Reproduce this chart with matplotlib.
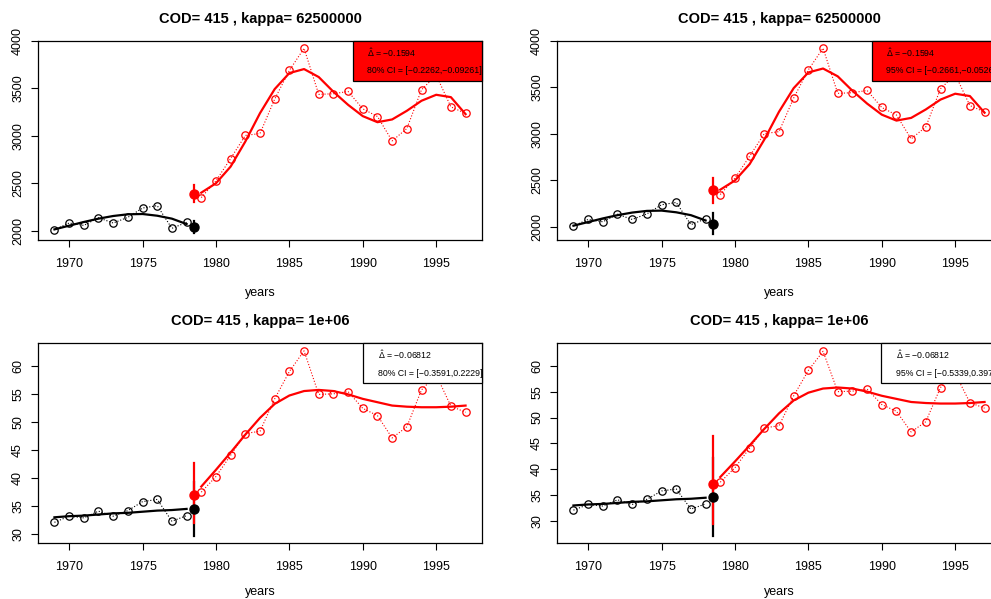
import numpy as np
import matplotlib
matplotlib.use("Agg")
import matplotlib.pyplot as plt
from matplotlib.patches import Rectangle

plt.rcParams['font.family'] = ['Liberation Sans', 'DejaVu Sans']
plt.rcParams['mathtext.fontset'] = 'custom'
plt.rcParams['mathtext.rm'] = 'Liberation Sans'
plt.rcParams['mathtext.it'] = 'Liberation Sans'

years_pre = [1969, 1970, 1971, 1972, 1973, 1974, 1975, 1976, 1977, 1978]
years_post = [1979, 1980, 1981, 1982, 1983, 1984, 1985, 1986, 1987, 1988,
              1989, 1990, 1991, 1992, 1993, 1994, 1995, 1996, 1997]
t_change = 1978.5

# top row: raw counts
obs_pre_top = [2011, 2081, 2056, 2137, 2081, 2141, 2239, 2264, 2025, 2088]
obs_post_top = [2349, 2525, 2761, 3004, 3025, 3387, 3690, 3923, 3437, 3444,
                3468, 3285, 3204, 2947, 3077, 3486, 3640, 3306, 3236]
fit_pre_top = [2014, 2053, 2092, 2127, 2155, 2173, 2176, 2158, 2127, 2070]
fit_post_top = [2401, 2500, 2676, 2940, 3239, 3493, 3662, 3704, 3620, 3465,
                3327, 3208, 3144, 3173, 3264, 3370, 3433, 3408, 3229]

# bottom row: transformed
obs_pre_bot = [32.1, 33.2, 32.9, 34.1, 33.2, 34.2, 35.8, 36.2, 32.3, 33.3]
obs_post_bot = [37.5, 40.3, 44.1, 48.0, 48.4, 54.2, 59.1, 62.8, 55.0, 55.1,
                55.5, 52.5, 51.2, 47.2, 49.2, 55.8, 58.5, 52.9, 51.8]
fit_pre_bot = [33.0, 33.2, 33.3, 33.5, 33.7, 33.8, 34.0, 34.2, 34.3, 34.5]
fit_post_bot = [38.5, 41.5, 44.6, 47.8, 50.8, 53.3, 54.8, 55.6, 55.8, 55.6,
                55.0, 54.2, 53.6, 53.0, 52.8, 52.7, 52.7, 52.8, 53.0]

# change point estimates: (pre, pre_lo, pre_hi, post, post_lo, post_hi)
cp_top_80 = (2035, 1972, 2102, 2384, 2299, 2482)
cp_top_95 = (2032, 1928, 2151, 2393, 2259, 2530)
cp_bot_80 = (34.5, 29.7, 39.3, 37.0, 32.0, 42.7)
cp_bot_95 = (34.6, 27.1, 42.1, 37.1, 29.5, 46.4)

titles = ['COD= 415 , kappa= 62500000', 'COD= 415 , kappa= 62500000',
          'COD= 415 , kappa= 1e+06', 'COD= 415 , kappa= 1e+06']
delta_text = ['-0.1594', '-0.1594', '-0.06812', '-0.06812']
ci_text = ['80% CI = [\u22120.2262,\u22120.09261]',
           '95% CI = [\u22120.2661,\u22120.05265]',
           '80% CI = [\u22120.3591,0.2229]',
           '95% CI = [\u22120.5339,0.3977]']


def draw_panel(ax, obs_pre, obs_post, fit_pre, fit_post, cp, title, dtxt, ctxt,
               ylim, yticks, box_color, box_x, xlab_pad):
    ax.plot(years_pre, obs_pre, ':', color='black', lw=0.8)
    ax.plot(years_pre, obs_pre, 'o', mfc='none', mec='black', ms=5.3, mew=0.9)
    ax.plot(years_post, obs_post, ':', color='red', lw=0.8)
    ax.plot(years_post, obs_post, 'o', mfc='none', mec='red', ms=5.3, mew=0.9)
    ax.plot(years_pre, fit_pre, '-', color='black', lw=1.6)
    ax.plot(years_post, fit_post, '-', color='red', lw=1.6)

    ax.plot([t_change, t_change], [cp[1], cp[2]], color='black', lw=1.6)
    ax.plot([t_change, t_change], [cp[4], cp[5]], color='red', lw=1.6)
    ax.plot(t_change, cp[3], 'o', color='red', ms=6.5)
    ax.plot(t_change, cp[0], 'o', color='black', ms=6.5)

    ax.set_xlim(1967.88, 1998.12)
    ax.set_ylim(*ylim)
    ax.set_xticks([1970, 1975, 1980, 1985, 1990, 1995])
    ax.set_yticks(yticks)
    ax.set_yticklabels([str(v) for v in yticks], rotation=90, va='center')
    ax.tick_params(direction='out', length=5, width=0.8, labelsize=9, pad=8)
    ax.tick_params(axis='y', pad=5)
    for s in ax.spines.values():
        s.set_linewidth(0.9)
    ax.set_xlabel('years', fontsize=9, labelpad=xlab_pad)
    ax.set_title(title, fontsize=10.5, fontweight='bold', pad=13)

    h = 0.202
    ax.add_patch(Rectangle((box_x, 1 - h), 1 - box_x, h, transform=ax.transAxes,
                           facecolor=box_color, edgecolor='black', lw=0.9,
                           clip_on=False, zorder=5))
    tx = box_x + 0.033
    ax.text(tx, 0.94, r'$\hat{\Delta}$ = ' + dtxt.replace('-', '\u2212'),
            transform=ax.transAxes, fontsize=6.3, va='center', ha='left', zorder=6)
    ax.text(tx, 0.85, ctxt, transform=ax.transAxes, fontsize=6.3,
            va='center', ha='left', zorder=6)


fig = plt.figure(figsize=(9.91, 5.99), dpi=100)
W, H = 991.0, 599.0
ax_w = 444 / W
ax_h_top = 199 / H
ax_h_bot = 200 / H
ax1 = fig.add_axes([38 / W, 1 - 240 / H, ax_w, ax_h_top])
ax2 = fig.add_axes([557 / W, 1 - 240 / H, ax_w, ax_h_top])
ax3 = fig.add_axes([38 / W, 1 - 543 / H, ax_w, ax_h_bot])
ax4 = fig.add_axes([557 / W, 1 - 543 / H, ax_w, ax_h_bot])

top_ticks = [2000, 2500, 3000, 3500, 4000]
bot_ticks = [30, 35, 40, 45, 50, 55, 60]

draw_panel(ax1, obs_pre_top, obs_post_top, fit_pre_top, fit_post_top, cp_top_80,
           titles[0], delta_text[0], ci_text[0], (1902, 4000), top_ticks, 'red', 0.709, 12)
draw_panel(ax2, obs_pre_top, obs_post_top, fit_pre_top, fit_post_top, cp_top_95,
           titles[1], delta_text[1], ci_text[1], (1860, 4000), top_ticks, 'red', 0.709, 12)
draw_panel(ax3, obs_pre_bot, obs_post_bot, fit_pre_bot, fit_post_bot, cp_bot_80,
           titles[2], delta_text[2], ci_text[2], (28.4, 64.2), bot_ticks, 'white', 0.732, 9)
draw_panel(ax4, obs_pre_bot, obs_post_bot, fit_pre_bot, fit_post_bot, cp_bot_95,
           titles[3], delta_text[3], ci_text[3], (25.75, 64.4), bot_ticks, 'white', 0.730, 9)

fig.savefig('out.png', dpi=100)
